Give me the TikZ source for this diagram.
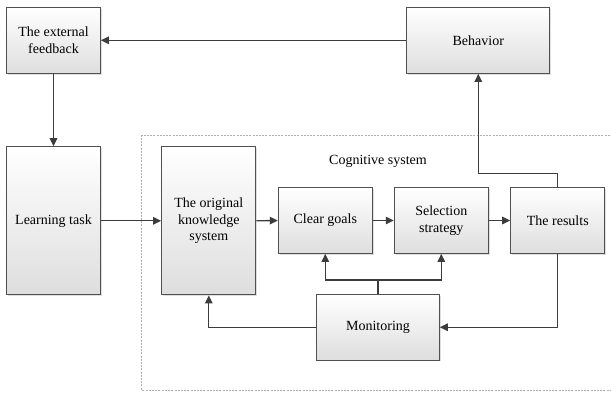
\documentclass[tikz,border=0pt]{standalone}
\usepackage{fontspec}
\setmainfont{Liberation Serif}
\usetikzlibrary{arrows.meta,shadows}

\definecolor{boxline}{HTML}{505050}
\definecolor{wire}{HTML}{3C3C3C}
\definecolor{frameline}{HTML}{B0B0B0}

\tikzset{
  block/.style={draw=boxline, line width=1pt, top color=white, bottom color=black!13,
    drop shadow={shadow xshift=1.4pt, shadow yshift=-1.4pt, fill=black!25, opacity=0.5},
    align=center, inner sep=2pt, font=\fontsize{14}{16.7}\selectfont},
  wirepath/.style={draw=wire, line width=1.35pt},
  arr/.style={wirepath, -{Triangle[length=8pt,width=7.5pt]}},
  frame/.style={draw=frameline, line width=0.6pt, dash pattern=on 2pt off 1.2pt},
  caption/.style={font=\fontsize{14}{16.7}\selectfont, inner sep=0pt}
}

\begin{document}
\begin{tikzpicture}[x=1pt, y=-1pt]
  \useasboundingbox (0,0) rectangle (611,392);

  % cognitive system frame (open on the right)
  \draw[frame] (613,135.7) -- (141.7,135.7) -- (141.7,390) -- (613,390);
  \node[caption] (cogsys) at (378,161) {Cognitive system};

  % blocks
  \node[block, minimum width=93.6pt, minimum height=66pt] (ext) at (53.5,40.3) {The external\\feedback};
  \node[block, minimum width=143.3pt, minimum height=66pt] (beh) at (478.3,40.3) {Behavior};
  \node[block, minimum width=93.6pt, minimum height=148.3pt] (learn) at (53.5,220.8) {Learning task};
  \node[block, minimum width=94.3pt, minimum height=148.3pt] (orig) at (208.8,220.8) {The original\\knowledge\\system};
  \node[block, minimum width=94pt, minimum height=65.6pt] (goals) at (325.3,220.5) {Clear goals};
  \node[block, minimum width=94pt, minimum height=65.6pt] (sel) at (441.3,220.5) {Selection\\strategy};
  \node[block, minimum width=94.3pt, minimum height=65.6pt] (res) at (557.8,220.5) {The results};
  \node[block, minimum width=122.6pt, minimum height=65.7pt] (mon) at (378,327.2) {Monitoring};

  % bend points
  \coordinate (rb) at (478.3,173.3);
  \coordinate (mj) at (378,280);

  % connectors
  \draw[arr] (beh.west) -- (ext.east);
  \draw[arr] (ext.south) -- (learn.north);
  \draw[arr] (learn.east) -- (orig.west);
  \draw[arr] (orig.east) -- (goals.west);
  \draw[arr] (goals.east) -- (sel.west);
  \draw[arr] (sel.east) -- (res.west);
  \draw[arr] (res.north) |- (rb) -- (beh.south);
  \draw[wirepath] (mon.north) -- (mj);
  \draw[arr] (mj) -| (goals.south);
  \draw[arr] (mj) -| (sel.south);
  \draw[arr] (mon.west) -| (orig.south);
  \draw[arr] (res.south) |- (mon.east);
\end{tikzpicture}
\end{document}
